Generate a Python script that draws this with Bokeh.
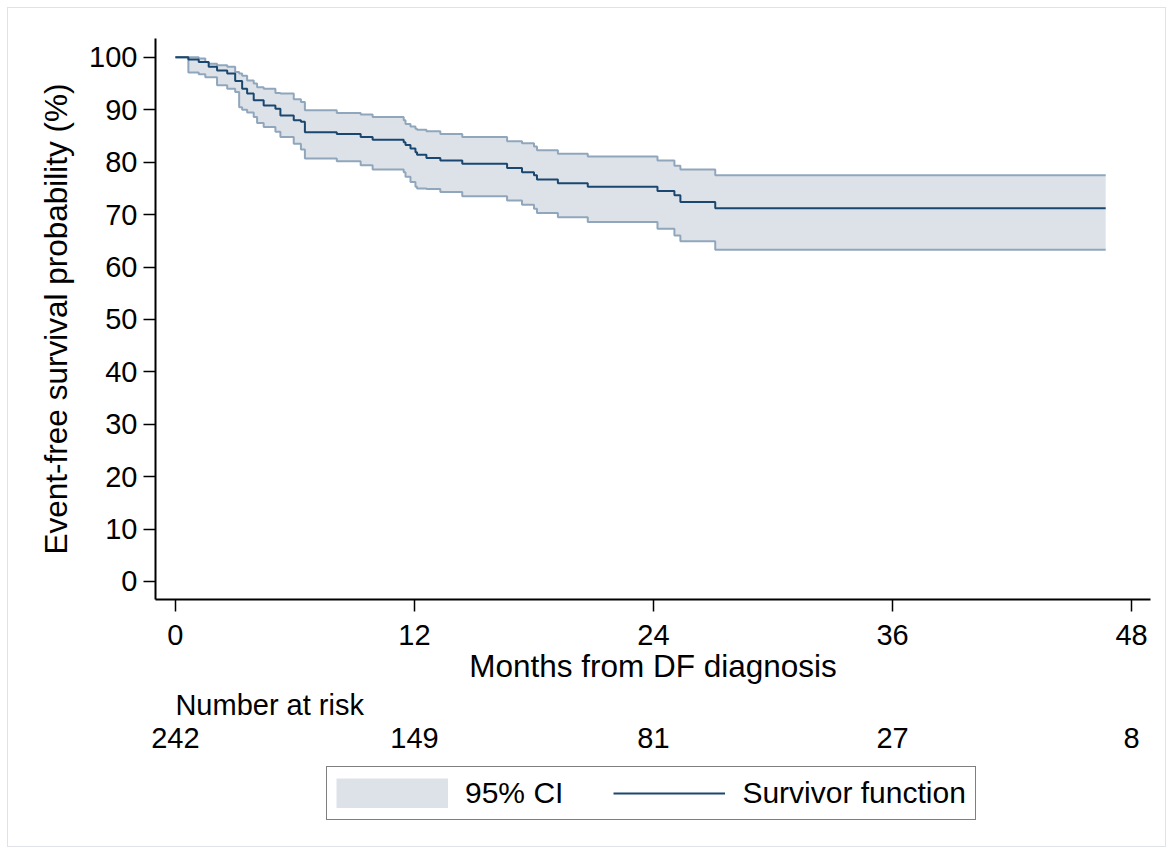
from bokeh.plotting import figure
from bokeh.models import Range1d, FixedTicker, Legend, LegendItem
from bokeh.layouts import column
from bokeh.embed import file_html
from bokeh.resources import INLINE
from bokeh.core.properties import value

# ---- data ----
months = [0, 0.65, 1.17, 1.5, 1.67, 2.09, 2.6, 3.0, 3.2, 3.35, 3.6, 3.93, 4.1, 4.43,
          5.02, 5.27, 5.94, 6.3, 6.5, 8.1, 9.3, 9.9, 11.46, 11.55, 11.8, 12.05, 12.13,
          12.6, 13.3, 14.4, 16.65, 17.4, 18.0, 18.15, 19.2, 20.7, 24.2, 25.05, 25.35,
          27.1, 46.7]
survival = [100, 99.6, 99.1, 99.1, 98.2, 97.5, 96.9, 95.5, 95.5, 94.0, 93.1, 91.8, 91.8,
            90.8, 90.2, 88.9, 88.0, 87.7, 85.7, 85.4, 84.8, 84.3, 83.8, 83.3, 82.6, 81.9,
            81.4, 80.8, 80.3, 79.7, 78.9, 78.1, 77.5, 76.7, 76.0, 75.3, 74.5, 73.7, 72.4,
            71.2, 71.2]
ci_upper = [100, 100, 99.8, 99.1, 98.8, 98.5, 98.2, 97.2, 96.9, 96.5, 95.6, 95.0, 94.3,
            94.0, 93.2, 93.1, 92.0, 91.5, 89.9, 89.4, 89.1, 88.6, 88.0, 87.3, 86.8, 86.4,
            86.2, 85.9, 85.4, 84.8, 84.0, 83.6, 83.0, 82.3, 81.6, 81.1, 80.3, 79.3, 78.6,
            77.5, 77.5]
ci_lower = [100, 97.1, 96.8, 96.2, 96.2, 94.7, 94.0, 93.4, 90.5, 90.0, 89.5, 88.6, 87.5,
            86.7, 85.8, 84.8, 83.5, 82.4, 80.7, 80.2, 79.4, 78.6, 78.1, 77.2, 76.2, 75.3,
            75.0, 74.9, 74.3, 73.5, 72.7, 71.9, 71.1, 70.3, 69.5, 68.6, 67.3, 66.0, 64.9,
            63.3, 63.3]
risk_times = [0, 12, 24, 36, 48]
risk_counts = [242, 149, 81, 27, 8]
x_ticks = [0, 12, 24, 36, 48]
y_ticks = [0, 10, 20, 30, 40, 50, 60, 70, 80, 90, 100]

# ---- style ----
FONT = "Liberation Sans"
NAVY = "#1a476f"
CI_FILL = "#dde2e9"
CI_LINE = "#90a6bc"

W, H = 1173, 854
FRAME_L, FRAME_R, FRAME_T, FRAME_B = 155, 1150, 38, 599   # page px
H1 = 690
H2 = H - H1
X0, X1 = -1.0, 48.95

p = figure(width=W, height=H1, x_range=Range1d(X0, X1),
           y_range=Range1d(-3.44, 103.6),
           output_backend="svg", toolbar_location=None, title=None,
           min_border_left=FRAME_L, min_border_right=W - FRAME_R,
           min_border_top=FRAME_T, min_border_bottom=H1 - FRAME_B)
p.frame_align = False
p.outline_line_color = None
p.grid.visible = False
p.background_fill_color = "white"
p.border_fill_color = None

p.xaxis.ticker = FixedTicker(ticks=x_ticks)
p.yaxis.ticker = FixedTicker(ticks=y_ticks)
for ax in (p.xaxis[0], p.yaxis[0]):
    ax.axis_line_width = 2
    ax.axis_line_color = "black"
    ax.major_tick_line_width = 1.5
    ax.major_tick_line_color = "black"
    ax.major_tick_out = 12
    ax.major_tick_in = 0
    ax.minor_tick_line_color = None
    ax.major_label_text_font = FONT
    ax.major_label_text_font_size = "29px"
    ax.major_label_text_color = "black"
    ax.axis_label_text_font = FONT
    ax.axis_label_text_font_size = "31.5px"
    ax.axis_label_text_font_style = "normal"
    ax.axis_label_text_color = "black"
p.xaxis.axis_label = "Months from DF diagnosis"
p.yaxis.axis_label = "Event-free survival probability (%)"
p.xaxis.major_label_standoff = 13
p.xaxis.axis_label_standoff = 0
p.yaxis.major_label_standoff = 6
p.yaxis.axis_label_standoff = 12

p.varea_step(x=months, y1=ci_lower, y2=ci_upper, step_mode="after", fill_color=CI_FILL)
p.step(months, ci_upper, mode="after", line_color=CI_LINE, line_width=2)
p.step(months, ci_lower, mode="after", line_color=CI_LINE, line_width=2)
p.step(months, survival, mode="after", line_color=NAVY, line_width=2)

# ---- lower panel: number at risk + legend ----
px_per_unit = (FRAME_R - FRAME_L) / (X1 - X0)
EXTRA = 20
q = figure(width=W, height=H2, x_range=Range1d(X0 - EXTRA / px_per_unit, X1),
           y_range=Range1d(-H2, 0), output_backend="svg", toolbar_location=None,
           title=None, x_axis_type=None, y_axis_type=None,
           min_border_left=FRAME_L - EXTRA, min_border_right=W - FRAME_R,
           min_border_top=0, min_border_bottom=0)
q.frame_align = False
q.outline_line_color = None
q.grid.visible = False
q.border_fill_color = None
q.background_fill_color = None

# y in this panel = page pixels above the panel top (negative below it)
TEXT_FIX = 11
q.text(x=[0], y=[H1 - (715 - TEXT_FIX)], text=["Number at risk"],
       text_font=value(FONT), text_font_size="29px", text_color="black",
       text_align="left", text_baseline="alphabetic")
q.text(x=risk_times, y=[H1 - (748 - TEXT_FIX)] * len(risk_times),
       text=[str(c) for c in risk_counts],
       text_font=value(FONT), text_font_size="29px", text_color="black",
       text_align="center", text_baseline="alphabetic")

# the same series, out of this panel's range: they only feed the legend glyphs
# (a wide stroke gives a full-size swatch in the legend)
r_band = q.step(months, ci_upper, mode="after", line_color=CI_FILL, line_width=30,
                line_cap="butt")
r_surv = q.step(months, survival, mode="after", line_color=NAVY, line_width=2)

legend = Legend(items=[LegendItem(label="95% CI", renderers=[r_band]),
                       LegendItem(label="Survivor function", renderers=[r_surv])],
                orientation="horizontal",
                location=(326 - (FRAME_L - EXTRA), H - 820),
                border_line_color="black", border_line_width=1.5,
                background_fill_color="white", background_fill_alpha=1,
                label_text_font=FONT, label_text_font_size="30px",
                label_text_color="black",
                glyph_width=112, glyph_height=30, padding=9, spacing=50,
                label_standoff=17, margin=0)
q.add_layout(legend)

layout = column(p, q, spacing=0,
                styles={"outline": "1px solid #dfe3e8", "outline-offset": "-8px"})

open("out.html", "w").write(file_html(layout, INLINE))
